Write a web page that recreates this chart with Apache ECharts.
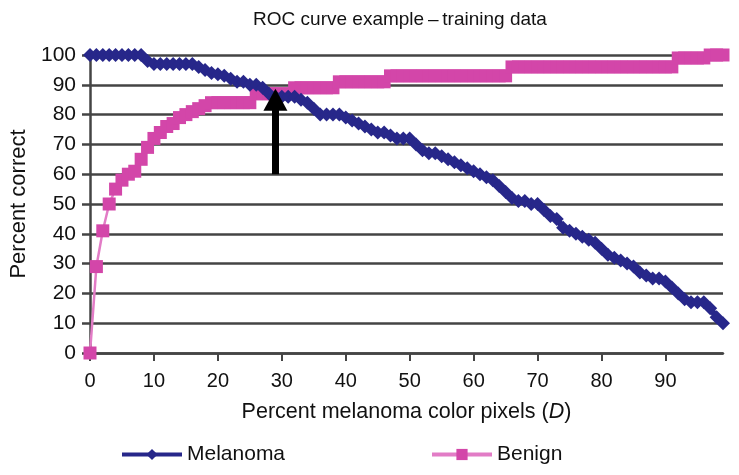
<!DOCTYPE html>
<html lang="en">
<head>
    <meta charset="UTF-8">
    <title>ROC curve example</title>
    <style>
        html, body { margin: 0; padding: 0; background: #fff; }
    </style>
</head>
<body>
<!-- chart container -->
<div id="main" style="width: 739px;height:475px;"></div>

<script src="https://cdn.jsdelivr.net/npm/echarts@6/dist/echarts.min.js"></script>
<script>
    // x categories: percent melanoma color pixels (D), 0..99
    var pixelPct = [
        '0','1','2','3','4','5','6','7','8','9',
        '10','11','12','13','14','15','16','17','18','19',
        '20','21','22','23','24','25','26','27','28','29',
        '30','31','32','33','34','35','36','37','38','39',
        '40','41','42','43','44','45','46','47','48','49',
        '50','51','52','53','54','55','56','57','58','59',
        '60','61','62','63','64','65','66','67','68','69',
        '70','71','72','73','74','75','76','77','78','79',
        '80','81','82','83','84','85','86','87','88','89',
        '90','91','92','93','94','95','96','97','98','99'
    ];

    // percent correct
    var melanoma = [
        100, 100, 100, 100, 100, 100, 100, 100, 100, 98,
        97, 97, 97, 97, 97, 97, 97, 96, 95, 94,
        93.5, 93, 92, 91, 91, 90, 90, 89, 87, 86,
        86, 86, 86, 85, 84, 82, 80, 80, 80, 80,
        79, 78, 77, 76, 75, 74, 74, 73, 72, 72,
        72, 70, 68, 67, 67, 66, 65, 64, 63, 62,
        61, 60, 59, 58, 56, 54, 52, 51, 51, 50,
        50, 48, 46, 45, 42, 41, 40, 39, 38, 37,
        35, 33, 32, 31, 30, 29, 27, 26, 25, 25,
        24, 22, 20, 18, 17, 17, 17, 15, 12, 10
    ];

    var benign = [
        0, 29, 41, 50, 55, 58, 60, 61, 65, 69,
        72, 74, 76, 77, 79, 80, 81, 82, 83, 84,
        84, 84, 84, 84, 84, 84, 87, 87, 87, 87,
        87, 87, 89, 89, 89, 89, 89, 89, 89, 91,
        91, 91, 91, 91, 91, 91, 91, 93, 93, 93,
        93, 93, 93, 93, 93, 93, 93, 93, 93, 93,
        93, 93, 93, 93, 93, 93, 96, 96, 96, 96,
        96, 96, 96, 96, 96, 96, 96, 96, 96, 96,
        96, 96, 96, 96, 96, 96, 96, 96, 96, 96,
        96, 96, 99, 99, 99, 99, 99, 100, 100, 100
    ];

    // arrow pointing at the crossing point
    var arrowAt = '29';
    var arrowFrom = 60;
    var arrowTo = 85;

    var yTicks = [0, 100, 10]; // min, max, interval

    var font = 'Liberation Sans, Arial, Helvetica, sans-serif';
    var navy = '#27278a';
    var pink = '#d346a9';

    var myChart = echarts.init(document.getElementById('main'));

    var option = {
        backgroundColor: '#fff',
        animation: false,
        title: {
            text: 'ROC curve example\u2009\u2013\u2009training data',
            left: 395,
            textAlign: 'center',
            top: 5,
            textStyle: { fontFamily: font, fontSize: 19, fontWeight: 'normal', color: '#111' }
        },
        legend: [
            {
                data: ['Melanoma'],
                left: 115,
                top: 439,
                itemWidth: 60,
                itemHeight: 14,
                itemGap: 10,
                lineStyle: { width: 4 },
                textStyle: { fontFamily: font, fontSize: 21, color: '#111' }
            },
            {
                data: ['Benign'],
                left: 425,
                top: 439,
                itemWidth: 60,
                itemHeight: 14,
                itemGap: 10,
                lineStyle: { width: 4 },
                textStyle: { fontFamily: font, fontSize: 21, color: '#111' }
            }
        ],
        grid: {
            left: 89,
            right: 16,
            top: 55,
            bottom: 122
        },
        xAxis: {
            type: 'category',
            data: pixelPct,
            boundaryGap: false,
            name: '{n|Percent melanoma color pixels (}{i|D}{n|)}',
            nameLocation: 'middle',
            nameGap: 48,
            nameTextStyle: {
                rich: {
                    n: { fontFamily: font, fontSize: 21.5, color: '#111' },
                    i: { fontFamily: font, fontSize: 21.5, color: '#111', fontStyle: 'italic' }
                }
            },
            axisLine: { show: true, lineStyle: { color: '#444', width: 2.5 } },
            axisTick: {
                show: true,
                length: 8,
                interval: 9,
                lineStyle: { color: '#444', width: 2 }
            },
            axisLabel: {
                interval: 9,
                margin: 18,
                fontFamily: font,
                fontSize: 20,
                color: '#111'
            },
            splitLine: { show: false }
        },
        yAxis: {
            type: 'value',
            min: yTicks[0],
            max: yTicks[1],
            interval: yTicks[2],
            name: 'Percent correct',
            nameLocation: 'middle',
            nameGap: 60,
            nameTextStyle: { fontFamily: font, fontSize: 22, color: '#111' },
            axisLine: { show: true, lineStyle: { color: '#444', width: 2.5 } },
            axisTick: { show: true, length: 8, lineStyle: { color: '#444', width: 2.5 } },
            axisLabel: {
                margin: 14,
                fontFamily: font,
                fontSize: 21,
                color: '#111'
            },
            splitLine: { show: true, lineStyle: { color: '#444', width: 2.5 } }
        },
        series: [
            {
                name: 'Melanoma',
                type: 'line',
                data: melanoma,
                symbol: 'diamond',
                symbolSize: 14,
                showAllSymbol: true,
                z: 3,
                lineStyle: { color: navy, width: 6 },
                itemStyle: { color: navy, borderColor: navy, borderWidth: 0 }
            },
            {
                name: 'Benign',
                type: 'line',
                data: benign,
                symbol: 'rect',
                symbolSize: 13,
                showAllSymbol: true,
                z: 2,
                lineStyle: { color: '#e27cc6', width: 2.5 },
                itemStyle: { color: pink, borderWidth: 0 },
                markLine: {
                    silent: true,
                    symbol: ['none', 'triangle'],
                    symbolSize: [24, 22],
                    label: { show: false },
                    lineStyle: { color: '#000', width: 7, type: 'solid' },
                    data: [
                        [
                            { coord: [arrowAt, arrowFrom] },
                            { coord: [arrowAt, arrowTo] }
                        ]
                    ],
                    z: 5
                }
            }
        ]
    };

    myChart.setOption(option);
</script>
</body>
</html>
